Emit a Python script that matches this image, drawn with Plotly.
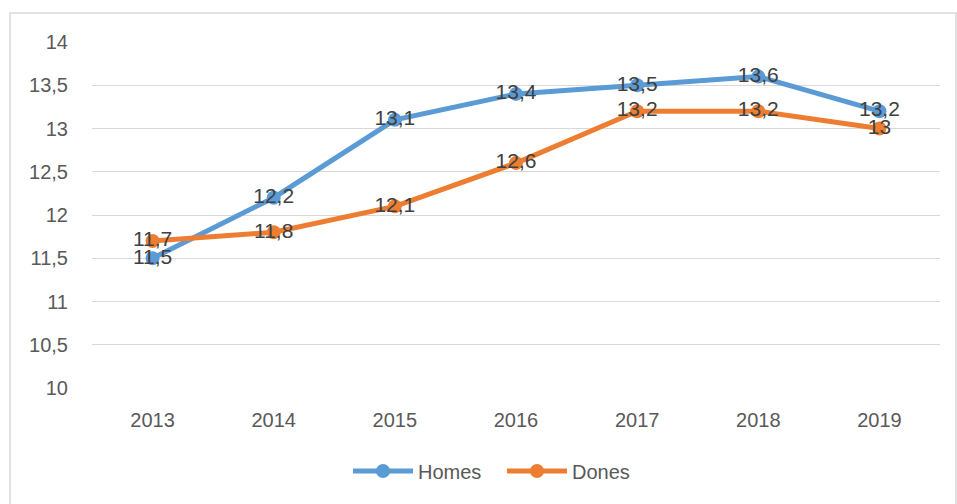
import plotly.graph_objects as go

years = ["2013", "2014", "2015", "2016", "2017", "2018", "2019"]
homes = [11.5, 12.2, 13.1, 13.4, 13.5, 13.6, 13.2]
dones = [11.7, 11.8, 12.1, 12.6, 13.2, 13.2, 13.0]
homes_labels = ["11,5", "12,2", "13,1", "13,4", "13,5", "13,6", "13,2"]
dones_labels = ["11,7", "11,8", "12,1", "12,6", "13,2", "13,2", "13"]
y_ticks = [10, 10.5, 11, 11.5, 12, 12.5, 13, 13.5, 14]

BLUE = "#5B9BD5"
ORANGE = "#ED7D31"
FONT = "Liberation Sans"

fig = go.Figure()
fig.add_trace(go.Scatter(
    x=years, y=homes, name="Homes", mode="lines+markers+text",
    line=dict(color=BLUE, width=5), marker=dict(color=BLUE, size=14),
    text=homes_labels, textposition="middle center",
    textfont=dict(family=FONT, size=21, color="#404040"),
))
fig.add_trace(go.Scatter(
    x=years, y=dones, name="Dones", mode="lines+markers+text",
    line=dict(color=ORANGE, width=5), marker=dict(color=ORANGE, size=14),
    text=dones_labels, textposition="middle center",
    textfont=dict(family=FONT, size=21, color="#404040"),
))

L, R, T, B = 92, 17, 42, 116
W, H = 957, 504
pw, ph = W - L - R, H - T - B

def px_x(v):
    return (v - L) / pw

def px_y(v):
    return 1 + (T - v) / ph

fig.update_layout(
    width=W, height=H,
    margin=dict(l=L, r=R, t=T, b=B),
    paper_bgcolor="white", plot_bgcolor="white",
    separators=",.",
    font=dict(family=FONT, size=20, color="#595959"),
    showlegend=True,
    legend=dict(orientation="h", x=px_x(348), xanchor="left", y=px_y(471), yanchor="middle",
                font=dict(size=20, color="#595959"), itemwidth=60,
                entrywidth=79, entrywidthmode="pixels"),
    xaxis=dict(type="category", range=[-0.5, 6.5], showgrid=False, showline=False,
               ticks="outside", ticklen=14, tickcolor="rgba(0,0,0,0)", zeroline=False,
               tickfont=dict(size=20, color="#595959")),
    yaxis=dict(range=[10, 14], tickvals=y_ticks, showgrid=True, gridcolor="#D9D9D9",
               gridwidth=1, zeroline=False, showline=False, ticks="outside",
               ticklen=19, tickcolor="rgba(0,0,0,0)",
               tickfont=dict(size=20, color="#595959")),
    shapes=[dict(type="rect", xref="paper", yref="paper",
                 x0=px_x(10), x1=px_x(956), y0=px_y(520), y1=px_y(13),
                 line=dict(color="#D9D9D9", width=1.5), layer="below")],
)

fig.write_html("out.html", config={"displayModeBar": False},
               post_script="document.body.style.margin='0';document.body.style.overflow='hidden';")
